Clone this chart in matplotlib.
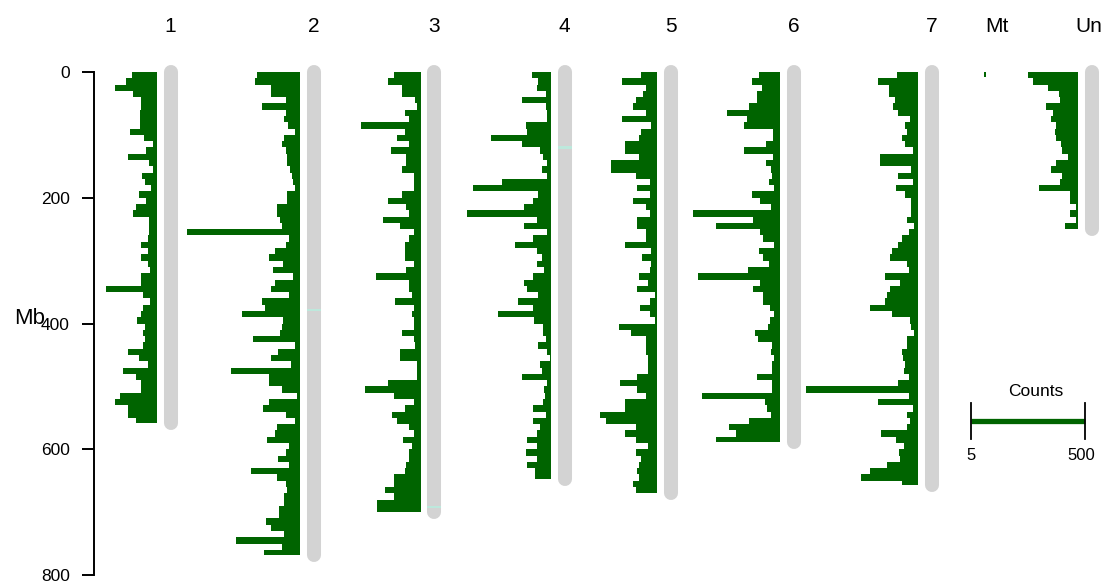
import matplotlib
matplotlib.use("Agg")
import matplotlib.pyplot as plt

plt.rcParams['font.family'] = ['Liberation Sans', 'DejaVu Sans']

# ---- data ----
chrom_names = ["1", "2", "3", "4", "5", "6", "7", "Mt", "Un"]
chrom_len = [558, 768, 700, 647, 670, 588, 657, 0.5, 250]   # Mb
bin_mb = 10
mt_bin_mb = 8

counts_1 = [109, 135, 182, 104, 69, 69, 74, 74, 74, 117, 56, 17, 48, 126, 35, 17, 65, 52, 26, 78,
            48, 91, 104, 35, 35, 35, 39, 69, 39, 69, 39, 30, 69, 69, 221, 61, 30, 61, 69, 87,
            52, 61, 52, 61, 126, 78, 39, 148, 91, 69, 69, 161, 182, 126, 126, 91]
counts_2 = [187, 195, 126, 126, 61, 165, 61, 69, 52, 22, 69, 78, 61, 56, 56, 43, 35, 30, 22, 56,
            56, 100, 100, 87, 78, 490, 48, 61, 109, 135, 74, 117, 30, 109, 126, 48, 165, 152, 252, 74,
            78, 87, 204, 22, 95, 126, 39, 299, 135, 135, 78, 13, 135, 161, 61, 22, 100, 109, 143, 48,
            61, 95, 48, 213, 100, 61, 56, 69, 69, 91, 91, 148, 126, 69, 278, 78, 156]
counts_3 = [113, 139, 82, 82, 26, 17, 69, 48, 260, 69, 100, 48, 126, 61, 61, 82, 30, 30, 30, 82,
            139, 61, 48, 161, 87, 30, 48, 69, 69, 69, 30, 61, 195, 52, 52, 39, 109, 30, 35, 30,
            30, 82, 30, 26, 91, 91, 17, 17, 17, 139, 243, 113, 30, 69, 122, 100, 52, 30, 74, 39,
            48, 52, 61, 69, 113, 113, 156, 113, 187, 187]
counts_4 = [82, 56, 61, 22, 126, 22, 17, 17, 109, 104, 260, 126, 48, 35, 17, 39, 17, 213, 339, 56,
            78, 117, 365, 61, 117, 17, 78, 156, 61, 39, 61, 30, 78, 117, 104, 56, 143, 78, 230, 74,
            35, 35, 22, 56, 17, 4, 48, 39, 126, 17, 30, 26, 35, 78, 22, 78, 48, 61, 104, 61,
            109, 61, 104, 69, 69]
counts_5 = [69, 152, 48, 61, 91, 104, 48, 152, 26, 69, 78, 139, 139, 78, 200, 200, 91, 30, 87, 30,
            104, 48, 30, 87, 87, 48, 48, 139, 26, 65, 26, 30, 78, 39, 87, 9, 30, 74, 30, 9,
            165, 113, 48, 48, 48, 39, 39, 39, 87, 161, 87, 48, 139, 139, 247, 221, 91, 139, 91, 39,
            91, 69, 78, 87, 78, 104, 91]
counts_6 = [91, 122, 78, 100, 100, 135, 230, 143, 156, 30, 30, 61, 156, 30, 61, 39, 35, 48, 26, 122,
            87, 39, 378, 117, 278, 87, 74, 26, 91, 74, 48, 139, 356, 87, 117, 74, 74, 43, 26, 43,
            52, 109, 95, 35, 39, 26, 35, 35, 100, 35, 35, 339, 65, 56, 39, 135, 221, 191, 278]
counts_7 = [91, 174, 126, 126, 100, 109, 87, 35, 56, 48, 69, 56, 22, 165, 165, 30, 87, 22, 95, 56,
            30, 30, 30, 48, 17, 39, 69, 87, 113, 122, 48, 39, 143, 78, 122, 135, 143, 208, 113, 35,
            30, 17, 48, 48, 69, 65, 56, 61, 39, 87, 486, 39, 174, 22, 48, 35, 48, 161, 95, 61,
            82, 78, 135, 208, 247, 69]
counts_mt = [9]
counts_un = [217, 195, 130, 82, 78, 139, 109, 117, 95, 100, 95, 74, 69, 43, 95, 117, 69, 78, 169, 35,
             35, 9, 35, 9, 56]
all_counts = [counts_1, counts_2, counts_3, counts_4, counts_5, counts_6, counts_7, counts_mt, counts_un]

# light marks on the ideograms
mark_chrom = [1, 2, 3]
mark_pos = [378, 692, 120]

legend_lo, legend_hi = 5, 500

# ---- layout (pixels) ----
base_x = [157, 300, 420.5, 551, 657, 780, 918, 986, 1078]
gray_gap = 13.5
px_per_count = 114 / 495
px_per_mb = 0.6288
top_px = 72
W, H = 1110, 585
green = '#006400'
gray = '#d3d3d3'


def mb(ypx):
    return (ypx - top_px) / px_per_mb


fig = plt.figure(figsize=(W / 100, H / 100), dpi=100)
ax = fig.add_axes([0, 0, 1, 1])
ax.set_xlim(0, W)
ax.set_ylim(mb(H), mb(0))

for i, name in enumerate(chrom_names):
    cts = all_counts[i]
    L = chrom_len[i]
    starts = [j * bin_mb for j in range(len(cts))]
    if L < bin_mb:
        heights = [mt_bin_mb]
    else:
        heights = [min(bin_mb, L - s) for s in starts]
    widths = [c * px_per_count for c in cts]
    lefts = [base_x[i] - w for w in widths]
    ax.barh(starts, widths, height=heights, left=lefts, align='edge',
            color=green, linewidth=0, antialiased=False, zorder=2)
    gx = base_x[i] + gray_gap
    ax.plot([gx, gx], [0, L], color=gray, lw=10.1, solid_capstyle='round', zorder=1)
    ax.text(gx - (3 if L < 300 else 0), mb(27), name, ha='center', va='center', fontsize=15)

for ci, pos in zip(mark_chrom, mark_pos):
    gx = base_x[ci] + gray_gap
    ax.barh(pos, 14, height=3.5, left=gx - 7, align='center', color='#bde8dc', lw=0, zorder=3)

# y axis
for s in ['top', 'right', 'bottom']:
    ax.spines[s].set_visible(False)
ax.spines['left'].set_position(('data', 94))
ax.spines['left'].set_bounds(0, 800)
ax.spines['left'].set_linewidth(1.4)
ax.set_xticks([])
ax.set_yticks([0, 200, 400, 600, 800])
ax.tick_params(axis='y', length=9, width=1.4, pad=8.5, labelsize=12.5)
ax.text(30, mb(318), "Mb", ha='center', va='center', fontsize=16)

# counts legend
lx0 = 971
lx1 = lx0 + (legend_hi - legend_lo) * px_per_count
ax.plot([lx0, lx1], [mb(421), mb(421)], color=green, lw=3.8, solid_capstyle='butt')
for x in (lx0, lx1):
    ax.plot([x, x], [mb(403), mb(439)], color='black', lw=1.3)
ax.text((lx0 + lx1) / 2 + 8, mb(392), "Counts", ha='center', va='center', fontsize=12.5)
ax.text(lx0, mb(456), str(legend_lo), ha='center', va='center', fontsize=12)
ax.text(lx1 - 4, mb(456), str(legend_hi), ha='center', va='center', fontsize=12)

fig.savefig("out.png", dpi=100)
